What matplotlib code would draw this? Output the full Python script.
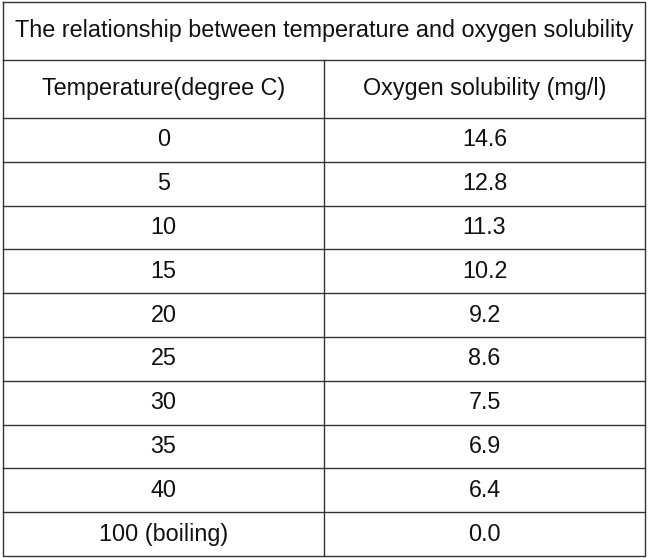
import matplotlib
matplotlib.use("Agg")
import matplotlib.pyplot as plt

title = "The relationship between temperature and oxygen solubility"
headers = ["Temperature(degree C)", "Oxygen solubility (mg/l)"]
temperatures = ["0", "5", "10", "15", "20", "25", "30", "35", "40", "100 (boiling)"]
solubility = ["14.6", "12.8", "11.3", "10.2", "9.2", "8.6", "7.5", "6.9", "6.4", "0.0"]

W, H = 649, 558
fig = plt.figure(figsize=(W/100, H/100), dpi=100)
ax = fig.add_axes([0, 0, 1, 1])
ax.set_xlim(0, W); ax.set_ylim(H, 0); ax.axis("off")

left, right, mid = 3, 645, 324
top, bottom = 2, 556
title_h, header_h = 58, 58
n = len(temperatures)
row_h = (bottom - top - title_h - header_h) / n
lw = 1.0
c = "#333333"
fs = 16.8
font = "Liberation Sans"

ax.plot([left, right, right, left, left], [top, top, bottom, bottom, top], color=c, lw=lw)
y1 = top + title_h
ax.plot([left, right], [y1, y1], color=c, lw=lw)
ax.text((left+right)/2, top + title_h/2, title, ha="center", va="center", fontsize=fs, family=font, color="#111")
y2 = y1 + header_h
ax.plot([left, right], [y2, y2], color=c, lw=lw)
ax.plot([mid, mid], [y1, bottom], color=c, lw=lw)
ax.text((left+mid)/2, y1 + header_h/2, headers[0], ha="center", va="center", fontsize=fs, family=font, color="#111")
ax.text((mid+right)/2, y1 + header_h/2, headers[1], ha="center", va="center", fontsize=fs, family=font, color="#111")
for i, (t, s) in enumerate(zip(temperatures, solubility)):
    ya = y2 + i*row_h
    if i > 0:
        ax.plot([left, right], [ya, ya], color=c, lw=lw)
    ax.text((left+mid)/2, ya + row_h/2, t, ha="center", va="center", fontsize=fs, family=font, color="#111")
    ax.text((mid+right)/2, ya + row_h/2, s, ha="center", va="center", fontsize=fs, family=font, color="#111")

fig.savefig("out.png", dpi=100)
